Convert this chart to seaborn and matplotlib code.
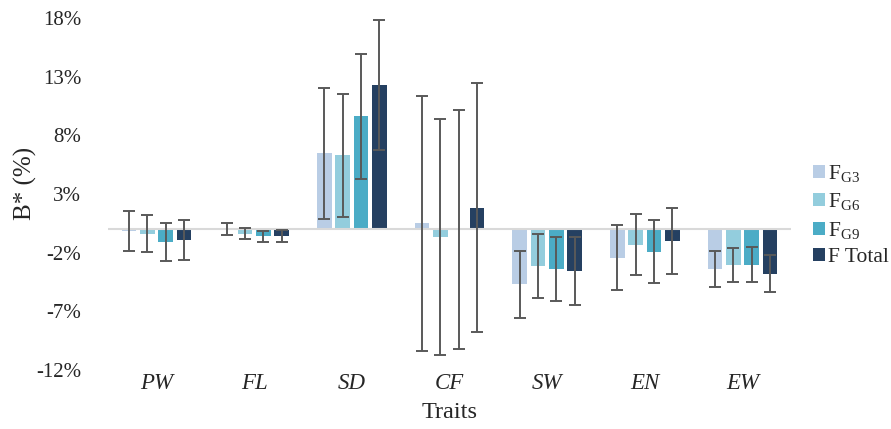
import numpy as np
import pandas as pd
import matplotlib
matplotlib.use("Agg")
import matplotlib.pyplot as plt
import seaborn as sns

# categories / series
traits = ["PW", "FL", "SD", "CF", "SW", "EN", "EW"]
series = ["F$_{\\mathrm{G3}}$", "F$_{\\mathrm{G6}}$", "F$_{\\mathrm{G9}}$", "F Total"]

# B* values (%)
g3_vals = [-0.15, 0.0, 6.46, 0.49, -4.69, -2.45, -3.38]
g6_vals = [-0.37, -0.37, 6.29, -0.65, -3.13, -1.31, -3.04]
g9_vals = [-1.08, -0.60, 9.62, 0.0, -3.38, -1.90, -3.01]
tot_vals = [-0.94, -0.57, 12.29, 1.82, -3.53, -1.00, -3.78]

# error bar half-lengths (%)
g3_err = [1.70, 0.50, 5.59, 10.90, 2.84, 2.77, 1.56]
g6_err = [1.60, 0.47, 5.23, 10.07, 2.70, 2.60, 1.45]
g9_err = [1.62, 0.45, 5.32, 10.20, 2.73, 2.65, 1.49]
tot_err = [1.70, 0.48, 5.56, 10.60, 2.90, 2.79, 1.56]

colors = ["#B9CDE5", "#93CDDD", "#4BACC6", "#254061"]

sns.set_theme(style="white")
plt.rcParams["font.family"] = ["Liberation Serif", "DejaVu Serif"]
plt.rcParams["mathtext.fontset"] = "custom"
plt.rcParams["mathtext.rm"] = "Liberation Serif"
plt.rcParams["mathtext.it"] = "Liberation Serif:italic"

rows = []
for name, vals in zip(series, [g3_vals, g6_vals, g9_vals, tot_vals]):
    for t, v in zip(traits, vals):
        rows.append({"Trait": t, "Group": name, "B": v})
df = pd.DataFrame(rows)
errs = [g3_err, g6_err, g9_err, tot_err]

fig = plt.figure(figsize=(8.91, 4.29), dpi=100)
ax = fig.add_axes([0.121, 0.1375, 0.767, 0.8205])

sns.barplot(data=df, x="Trait", y="B", hue="Group", hue_order=series,
            palette=colors, saturation=1, order=traits, width=0.75, gap=0.2,
            errorbar=None, ax=ax, edgecolor="none")

# error bars at the bar positions seaborn chose
for container, err in zip(ax.containers, errs):
    xs = [p.get_x() + p.get_width() / 2 for p in container]
    ys = [p.get_y() + p.get_height() for p in container]
    ax.errorbar(xs, ys, yerr=err, fmt="none", ecolor="#595959",
                elinewidth=1.4, capsize=4, capthick=1.4, zorder=3)

ax.axhline(0, color="#D9D9D9", lw=1.5, zorder=1)
ax.set_ylim(-12, 18)
ax.set_xlim(-0.5, 6.5)
ax.set_yticks([18, 13, 8, 3, -2, -7, -12])
ax.set_yticklabels(["18%", "13%", "8%", "3%", "-2%", "-7%", "-12%"], fontsize=15)
ax.set_xticks(range(len(traits)))
ax.set_xticklabels(traits, fontsize=16.5, style="italic")
ax.tick_params(axis="both", length=0)
ax.tick_params(axis="x", pad=2)
ax.tick_params(axis="y", pad=19)
for s in ax.spines.values():
    s.set_visible(False)

ax.set_xlabel("Traits", fontsize=17.5, labelpad=6)
ax.set_ylabel("B* (%)", fontsize=18, labelpad=2)
ax.yaxis.set_label_coords(-0.104, 0.53)

ax.legend(loc="center left", bbox_to_anchor=(1.0, 0.44), frameon=False,
          fontsize=15.5, handlelength=0.55, handleheight=0.55, handletextpad=0.15,
          labelspacing=0.35, borderaxespad=0.6)

fig.savefig("out.png", dpi=100)
